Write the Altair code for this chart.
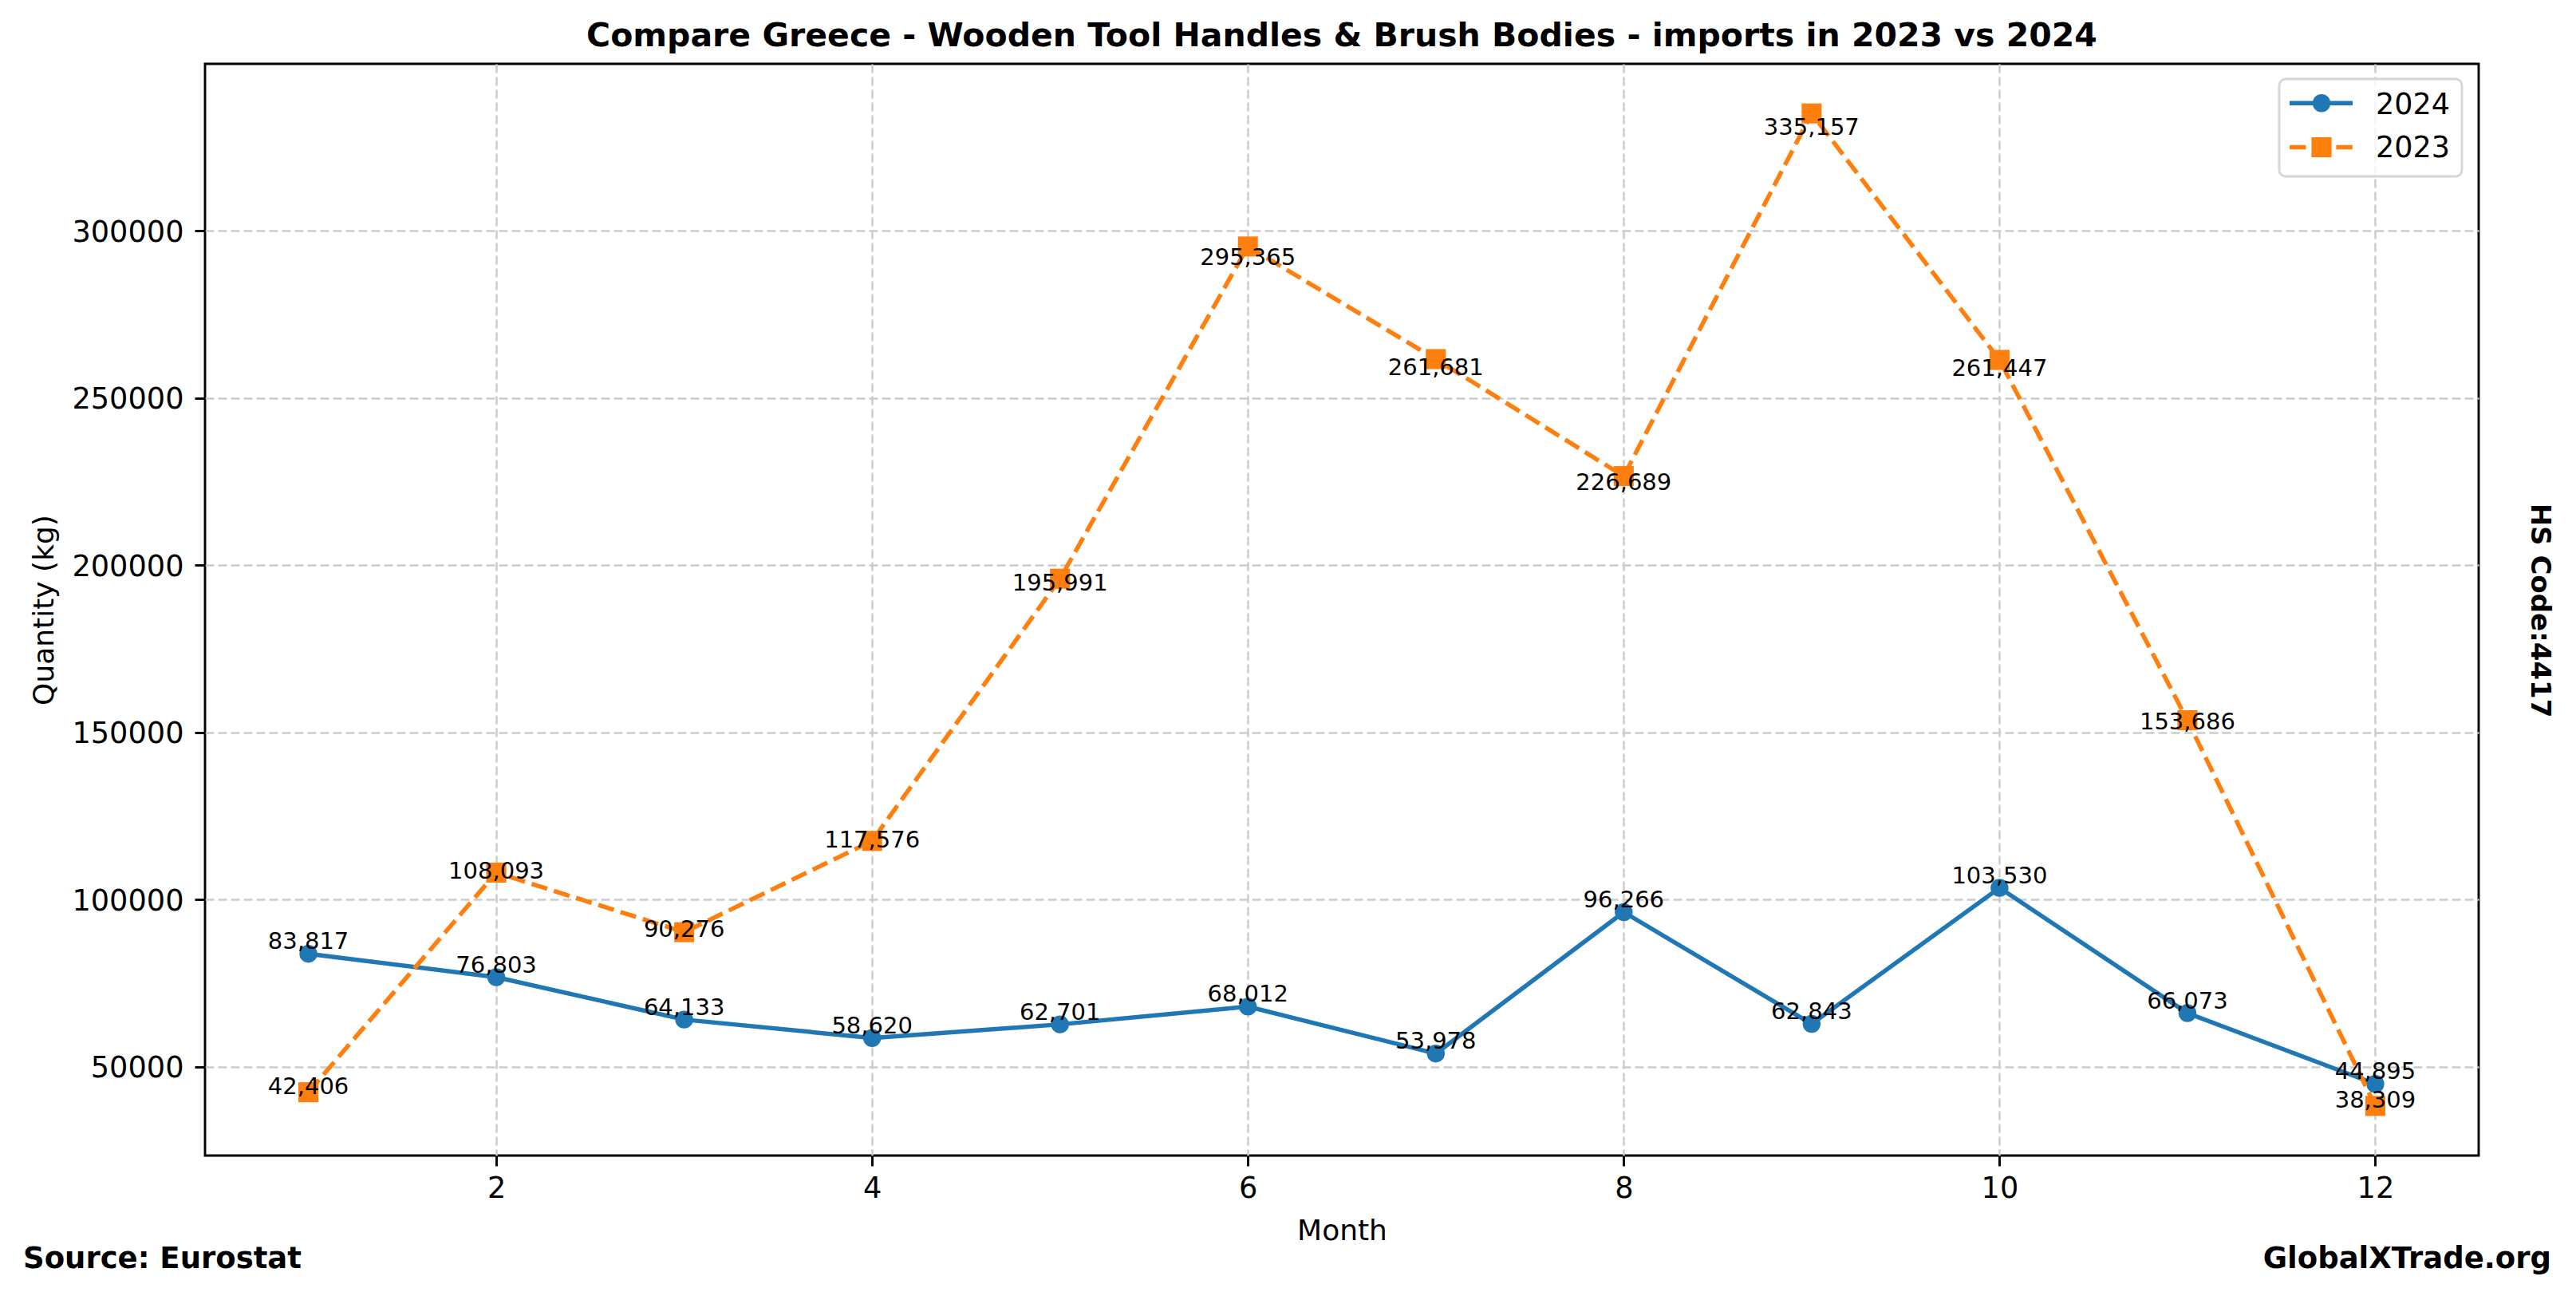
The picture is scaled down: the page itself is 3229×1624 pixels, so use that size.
import altair as alt
import pandas as pd

# ---------------- data ----------------
months = list(range(1, 13))
values_2024 = [83817, 76803, 64133, 58620, 62701, 68012, 53978, 96266, 62843, 103530, 66073, 44895]
values_2023 = [42406, 108093, 90276, 117576, 195991, 295365, 261681, 226689, 335157, 261447, 153686, 38309]
series_names = ["2024", "2023"]
series_colors = ["#1f77b4", "#ff7f0e"]
x_ticks = [2, 4, 6, 8, 10, 12]
y_ticks = [50000, 100000, 150000, 200000, 250000, 300000]

title_text = "Compare Greece - Wooden Tool Handles & Brush Bodies - imports in 2023 vs 2024"
x_title = "Month"
y_title = "Quantity (kg)"
source_text = "Source: Eurostat"
site_text = "GlobalXTrade.org"
hs_text = "HS Code:4417"

# ---------------- layout ----------------
W, H = 2850, 1368
FONT = "DejaVu Sans"
LW = 5.5
DASH = [20.4, 8.8]

df24 = pd.DataFrame({"month": months, "value": values_2024})
df23 = pd.DataFrame({"month": months, "value": values_2023})

x_scale = alt.Scale(domain=[0.45, 12.55], nice=False, zero=False)
y_scale = alt.Scale(domain=[23467, 349999], nice=False, zero=False)

x_axis = alt.Axis(values=x_ticks, format="d", title=x_title, labelPadding=10,
                  titleY=105, titleBaseline="alphabetic")
y_axis = alt.Axis(values=y_ticks, format="d", title=y_title, labelPadding=14,
                  labelOffset=2, titleX=-202, titleBaseline="middle")


def X():
    return alt.X("month:Q", scale=x_scale, axis=x_axis)


def Y(field="value"):
    return alt.Y(f"{field}:Q", scale=y_scale, axis=y_axis)


line24 = alt.Chart(df24).mark_line(color=series_colors[0], strokeWidth=LW).encode(x=X(), y=Y())
pts24 = alt.Chart(df24).mark_point(filled=True, shape="circle", size=503, opacity=1,
                                   color=series_colors[0]).encode(x=X(), y=Y())
line23 = alt.Chart(df23).mark_line(color=series_colors[1], strokeWidth=LW,
                                   strokeDash=DASH).encode(x=X(), y=Y())
pts23 = alt.Chart(df23).mark_point(filled=True, shape="square", size=630, opacity=1,
                                   color=series_colors[1]).encode(x=X(), y=Y())

txt24 = alt.Chart(df24).mark_text(font=FONT, fontSize=29, align="center", baseline="bottom",
                                  color="black").encode(
    x=X(), y=Y(), text=alt.Text("value:Q", format=","))
txt23 = alt.Chart(df23).transform_calculate(
    label_y="datum.value * 0.98 + 2500"
).mark_text(font=FONT, fontSize=29, align="center", baseline="middle",
            color="black").encode(
    x=X(), y=Y("label_y"), text=alt.Text("value:Q", format=","))


def label_layer(text, x, y, size, align="center", baseline="alphabetic", angle=0, weight="bold"):
    return alt.Chart(pd.DataFrame({"label": [text]})).mark_text(
        font=FONT, fontSize=size, fontWeight=weight, align=align, baseline=baseline,
        angle=angle, color="black"
    ).encode(x=alt.value(x), y=alt.value(y), text="label:N")


title_l = label_layer(title_text, W / 2, -22, 41)
source_l = label_layer(source_text, -228, 1509, 37, align="left")
site_l = label_layer(site_text, 2941, 1509, 37, align="right")
hs_l = label_layer(hs_text, 2926, 685, 34, baseline="middle", angle=90)

# ---------------- legend ----------------
leg_df = pd.DataFrame({"name": series_names})
leg_box = alt.Chart(leg_df.head(1)).mark_rect(
    fill="white", fillOpacity=0.8, stroke="#d6d6d6", strokeWidth=2.9, cornerRadius=8
).encode(x=alt.value(2600), x2=alt.value(2829), y=alt.value(19), y2=alt.value(141))

row_y = [49.3, 104.5]
text_base = [63.3, 117.3]
leg_layers = [leg_box]
for i, name in enumerate(series_names):
    d = leg_df.iloc[[i]]
    rule_kwargs = dict(color=series_colors[i], strokeWidth=LW)
    if i == 1:
        rule_kwargs["strokeDash"] = DASH
    leg_layers.append(alt.Chart(d).mark_rule(**rule_kwargs).encode(
        x=alt.value(2613), x2=alt.value(2692), y=alt.value(row_y[i])))
    leg_layers.append(alt.Chart(d).mark_point(
        filled=True, opacity=1, shape=["circle", "square"][i], size=[503, 630][i],
        color=series_colors[i]).encode(x=alt.value(2653), y=alt.value(row_y[i])))
    leg_layers.append(alt.Chart(d).mark_text(
        font=FONT, fontSize=36.5, align="left", baseline="alphabetic", color="black"
    ).encode(x=alt.value(2721), y=alt.value(text_base[i]), text="name:N"))

chart = alt.layer(
    line24, pts24, line23, pts23, txt24, txt23,
    title_l, source_l, site_l, hs_l, *leg_layers
).properties(
    width=W, height=H,
    autosize=alt.AutoSizeParams(type="none"),
    padding={"left": 249, "top": 72, "right": 110, "bottom": 170},
    background="white",
).configure_view(
    stroke="black", strokeWidth=2.9
).configure_axis(
    labelFont=FONT, labelFontSize=36.7, labelColor="black",
    titleFont=FONT, titleFontSize=36, titleFontWeight="normal", titleColor="black",
    domain=False, tickColor="black", tickWidth=2.9, tickSize=13,
    grid=True, gridColor="#cccccc", gridDash=[11, 5], gridWidth=2.5,
)

chart.save("out.html", embed_options={"renderer": "svg", "actions": False})
